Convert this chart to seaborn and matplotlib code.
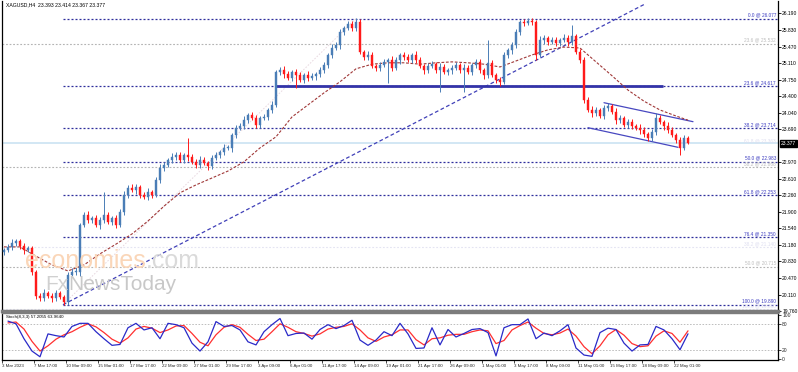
import matplotlib
matplotlib.use("Agg")
import matplotlib.pyplot as plt
import seaborn as sns
import pandas as pd

# ---------------- data ----------------
first_open = 21.02
closes = [
    21.07, 21.14, 21.22, 21.27, 21.16, 21.07, 21.12, 20.60, 20.08, 20.03,
    20.14, 20.08, 20.03, 20.14, 20.06, 19.95, 20.53, 20.60, 20.60, 21.61,
    21.83, 21.72, 21.76, 21.61, 21.72, 21.83, 21.68, 21.76, 21.61, 21.89,
    22.26, 22.41, 22.37, 22.43, 22.26, 22.22, 22.33, 22.26, 22.59, 22.85,
    22.91, 23.02, 23.08, 23.13, 23.02, 23.13, 23.08, 22.98, 22.91, 23.02,
    22.95, 22.89, 23.06, 23.13, 23.19, 23.28, 23.28, 23.56, 23.71, 23.75,
    23.88, 23.99, 23.93, 23.78, 23.93, 23.95, 24.10, 24.21, 24.92, 24.96,
    24.88, 24.79, 24.92, 24.86, 24.75, 24.86, 24.79, 24.83, 24.88, 24.96,
    25.07, 25.29, 25.44, 25.50, 25.79, 25.87, 25.96, 25.87, 26.00, 25.35,
    25.25, 25.29, 25.05, 25.01, 25.07, 25.14, 25.18, 25.01, 25.18, 25.29,
    25.25, 25.18, 25.29, 25.18, 25.05, 24.96, 25.05, 25.09, 24.96, 25.03,
    24.92, 24.96, 25.01, 25.07, 24.96, 25.01, 24.92, 25.07, 25.14, 24.96,
    24.86, 25.12, 24.86, 24.75, 24.71, 25.29, 25.40, 25.50, 25.79, 26.00,
    25.98, 26.03, 26.00, 25.29, 25.61, 25.66, 25.57, 25.61, 25.55, 25.61,
    25.66, 25.57, 25.70, 25.35, 25.18, 24.32, 24.10, 24.03, 24.10, 23.97,
    24.14, 24.19, 24.06, 23.88, 23.93, 23.78, 23.84, 23.75, 23.71, 23.67,
    23.58, 23.49, 23.62, 23.93, 23.84, 23.75, 23.67, 23.56, 23.45, 23.28,
    23.49, 23.377,
]
upper_wicks = [
    .05, .06, .08, .05, .04, .06, .05, .04, .05, .06,
    .08, .05, .06, .07, .05, .04, .06, .08, .10, .05,
    .06, .08, .05, .07, .06, .50, .06, .05, .08, .06,
    .08, .06, .10, .07, .05, .06, .08, .05, .06, .08,
    .06, .05, .08, .06, .07, .05, .36, .06, .05, .08,
    .06, .05, .07, .06, .05, .08, .06, .05, .07, .06,
    .08, .05, .06, .07, .05, .06, .05, .08, .05, .06,
    .08, .06, .05, .07, .06, .05, .08, .06, .05, .07,
    .06, .05, .08, .06, .07, .05, .06, .07, .08, .06,
    .05, .08, .06, .05, .07, .06, .05, .08, .06, .05,
    .07, .06, .05, .08, .06, .05, .07, .06, .05, .08,
    .06, .05, .07, .06, .05, .08, .06, .05, .07, .06,
    .05, .49, .06, .05, .07, .06, .05, .08, .06, .05,
    .06, .05, .06, .05, .08, .06, .05, .07, .06, .05,
    .08, .06, .24, .05, .07, .06, .05, .08, .06, .05,
    .07, .06, .05, .08, .06, .05, .07, .06, .05, .08,
    .06, .05, .07, .10, .06, .05, .08, .06, .05, .07,
    .06, .04,
]
lower_wicks = [
    .06, .05, .07, .05, .06, .08, .05, .06, .07, .05,
    .06, .05, .08, .06, .05, .06, .07, .05, .06, .08,
    .05, .07, .06, .05, .08, .06, .05, .07, .06, .05,
    .07, .06, .05, .08, .06, .05, .07, .06, .05, .06,
    .08, .05, .06, .07, .05, .06, .08, .05, .06, .07,
    .05, .08, .06, .05, .07, .06, .05, .08, .06, .05,
    .07, .06, .05, .08, .06, .05, .07, .06, .05, .06,
    .08, .05, .06, .28, .05, .07, .06, .05, .08, .06,
    .05, .07, .06, .05, .08, .06, .05, .07, .06, .05,
    .08, .06, .05, .07, .06, .05, .45, .06, .05, .08,
    .06, .05, .07, .06, .05, .08, .06, .05, .07, .47,
    .05, .06, .08, .05, .06, .47, .05, .07, .06, .05,
    .08, .06, .05, .07, .10, .05, .06, .08, .05, .06,
    .07, .05, .06, .10, .05, .08, .06, .05, .07, .06,
    .05, .08, .06, .05, .07, .06, .05, .08, .06, .05,
    .07, .06, .05, .08, .06, .05, .07, .06, .05, .08,
    .06, .05, .07, .06, .05, .08, .06, .05, .07, .15,
    .05, .01,
]
# moving average, sampled every 4th candle (+ last candle)
ma_values = [
    21.14, 21.14, 20.94, 20.75, 20.62, 20.75, 20.99, 21.20, 21.42, 21.70,
    22.02, 22.31, 22.48, 22.63, 22.78, 22.98, 23.28, 23.52, 23.95, 24.21,
    24.47, 24.71, 24.99, 25.09, 25.12, 25.12, 25.09, 25.12, 25.14, 25.12,
    25.09, 25.03, 25.16, 25.29, 25.40, 25.46, 25.44, 25.14, 24.84, 24.53,
    24.29, 24.10, 23.97, 23.88,
]
# stochastic (8,3,3), sampled every 2nd candle
stoch_k = [
    86, 80, 46, 18, 5, 57, 53, 50, 74, 81,
    81, 62, 46, 31, 33, 71, 81, 66, 71, 46,
    81, 78, 71, 36, 18, 39, 85, 74, 76, 66,
    39, 32, 62, 78, 92, 53, 58, 59, 45, 67,
    78, 69, 76, 88, 43, 31, 43, 62, 53, 81,
    57, 24, 25, 71, 32, 67, 50, 58, 67, 69,
    60, 7, 71, 78, 78, 91, 46, 59, 53, 64,
    78, 25, 9, 6, 60, 70, 67, 36, 18, 32,
    33, 74, 66, 46, 21, 57.2055,
]
stoch_d = [
    82, 84, 68, 40, 18, 30, 45, 55, 62, 72,
    80, 73, 60, 45, 36, 48, 68, 74, 70, 60,
    66, 75, 76, 58, 38, 30, 55, 72, 78, 72,
    56, 42, 45, 62, 80, 72, 62, 58, 52, 57,
    68, 72, 74, 80, 66, 48, 40, 50, 55, 66,
    66, 44, 32, 46, 48, 54, 56, 56, 62, 66,
    64, 35, 42, 66, 76, 84, 70, 58, 55, 59,
    68, 52, 28, 12, 30, 55, 67, 54, 35, 28,
    30, 52, 64, 58, 38, 63.964,
]
price_ticks = [26.190, 25.830, 25.470, 25.110, 24.750, 24.400, 24.040, 23.690,
               22.970, 22.610, 22.260, 21.900, 21.540, 21.180, 20.830, 20.470,
               20.110, 19.760]
date_labels = ["3 Mar 2023", "7 Mar 17:00", "10 Mar 09:00", "15 Mar 01:00",
               "17 Mar 17:00", "22 Mar 09:00", "27 Mar 01:00", "29 Mar 17:00",
               "3 Apr 09:00", "6 Apr 01:00", "11 Apr 17:00", "14 Apr 09:00",
               "19 Apr 01:00", "21 Apr 17:00", "26 Apr 09:00", "1 May 01:00",
               "3 May 17:00", "8 May 09:00", "11 May 01:00", "15 May 17:00",
               "18 May 09:00", "22 May 01:00"]
fib_main_levels = [26.077, 24.617, 23.714, 22.983, 22.253, 21.350, 19.890]
fib_main_labels = ["0.0 @ 26.077", "23.6 @ 24.617", "38.2 @ 23.714", "50.0 @ 22.983",
                   "61.8 @ 22.253", "76.4 @ 21.350", "100.0 @ 19.890"]
fib_grey_levels = [25.532, 22.868, 20.715]
fib_grey_labels = ["23.6 @ 25.532", "38.2 @ 22.868", "50.0 @ 20.715"]
fib_faint_levels = [23.363, 21.140, 19.800]
fib_faint_labels = ["61.8 @ 23.363", "38.2 @ 21.140", "100.0 @ 19.800"]
support_level = 24.617
last_price = 23.377
header = "XAGUSD,H4  23.393 23.414 23.367 23.377"
stoch_header = "Stoch(8,3,3) 57.2055 63.9640"

# ---------------- frame ----------------
n = len(closes)
opens = [first_open] + closes[:-1]
highs = [max(o, c) + w for o, c, w in zip(opens, closes, upper_wicks)]
lows = [min(o, c) - w for o, c, w in zip(opens, closes, lower_wicks)]
df = pd.DataFrame({"i": range(n), "open": opens, "close": closes,
                   "high": highs, "low": lows})
df["up"] = df["close"] >= df["open"]

ma_df = pd.DataFrame({"i": list(range(0, n, 4)) + [n - 1], "ma": ma_values})
st_df = pd.DataFrame({"i": list(range(1, n, 2)), "k": stoch_k, "d": stoch_d})

sns.set_style("white")
plt.rcParams["font.family"] = ["Liberation Sans", "DejaVu Sans"]

W, H = 798, 372
fig = plt.figure(figsize=(W / 100, H / 100), dpi=100)


def rect(l, t, r, b):
    return [l / W, 1 - b / H, (r - l) / W, (b - t) / H]


ax = fig.add_axes(rect(2, 1, 778, 311))
ax2 = fig.add_axes(rect(2, 313, 778, 360))

X0, X1 = -0.5, 193.5
ax.set_xlim(X0, X1)
ax.set_ylim(19.754, 26.456)

BLUE_UP = "#4a7db6"
RED_DN = "#ff1a1a"
FIBC = "#2e2e9c"
SMALL = 3.4

# watermark (behind everything)
fig.text(25 / W, 1 - 268 / H, "economies", fontsize=18, color="#fad6b8",
         family="Liberation Sans", zorder=0)
fig.text(146 / W, 1 - 268 / H, ".com", fontsize=18, color="#dadada",
         family="Liberation Sans", zorder=0)
fig.text(45 / W, 1 - 290 / H, "Fx", fontsize=15, color="#d0d0d0",
         family="Liberation Sans", zorder=0)
fig.text(68 / W, 1 - 290 / H, "NewsToday", fontsize=15, color="#c8c8c8",
         family="Liberation Sans", zorder=0)
ax.patch.set_alpha(0)

# horizontal level lines
dot = (0, (1.6, 1.6))
for lv in fib_grey_levels:
    ax.axhline(lv, color="#b4b4b4", lw=0.8, ls=dot, zorder=1)
for lv in fib_faint_levels[1:]:
    ax.axhline(lv, color="#e4e4f2", lw=0.8, ls=dot, zorder=1)
ax.axhline(last_price, color="#cfe5f3", lw=1.3, zorder=1)
for lv in fib_main_levels:
    ax.hlines(lv, 14.75, X1, color=FIBC, lw=0.9, ls=dot, zorder=2)

# labels of the fibonacci levels
lx = 193.0
for lv, t in zip(fib_main_levels, fib_main_labels):
    ax.text(lx, lv + 0.02, t, fontsize=SMALL, color="#3b3bc0", ha="right", va="bottom")
for lv, t in zip(fib_grey_levels, fib_grey_labels):
    ax.text(lx, lv + 0.02, t, fontsize=SMALL, color="#bdbdbd", ha="right", va="bottom")
for lv, t in zip(fib_faint_levels, fib_faint_labels):
    ax.text(lx, lv + 0.02, t, fontsize=SMALL, color="#dedef0", ha="right", va="bottom")

# fib diagonal and trend / channel lines
ax.plot([14.75, 88], [19.89, 26.077], color="#e8d8e0", lw=0.7, ls=dot, zorder=2)
ax.plot([14.75, 160], [19.89, 26.38], color="#4040b8", lw=0.9, ls=(0, (3, 2)), zorder=3)
ax.plot([150, 172.25], [24.257, 23.847], color="#4848c0", lw=0.9, zorder=3)
ax.plot([146, 168.5], [23.717, 23.293], color="#4848c0", lw=0.9, zorder=3)
ax.hlines(support_level, 68, 164.75, color="#3333a8", lw=2.0, zorder=3)

# moving average
sns.lineplot(data=ma_df, x="i", y="ma", ax=ax, color="#a03838", lw=0.8,
             zorder=4, legend=False)
ax.lines[-1].set_linestyle((0, (2.5, 1.5)))

# candles
for up, col in ((True, BLUE_UP), (False, RED_DN)):
    sub = df[df["up"] == up]
    ax.vlines(sub["i"], sub["low"], sub["high"], color=col, lw=0.7, zorder=5)
    body = (sub["close"] - sub["open"]).abs().clip(lower=0.012)
    ax.bar(sub["i"], body, bottom=sub[["open", "close"]].min(axis=1), width=0.55,
           color=col, edgecolor=col, linewidth=0.3, zorder=6)

# axes styling main
ax.set_xlabel("")
ax.set_ylabel("")
ax.set_xticks([])
ax.yaxis.tick_right()
ax.set_yticks(price_ticks)
ax.set_yticklabels([f"{v:.3f}" for v in price_ticks])
ax.tick_params(axis="y", right=True, left=False, length=2, width=0.6, pad=1.0,
               labelsize=3.6, colors="black")
for s in ("left", "right"):
    ax.spines[s].set_color("black")
    ax.spines[s].set_linewidth(0.9)
ax.spines["top"].set_visible(False)
ax.spines["bottom"].set_color("#7c7c7c")
ax.spines["bottom"].set_linewidth(2.5)

ax.text(0.5, 26.43, header, fontsize=3.7, color="black", ha="left", va="top")
ax.text(X1 + 0.7, last_price, f"{last_price:.3f}", fontsize=3.6, color="white",
        ha="left", va="center", clip_on=False,
        bbox=dict(boxstyle="square,pad=0.2", fc="black", ec="black"))

# ---------------- stochastic panel ----------------
ax2.set_xlim(X0, X1)
ax2.set_ylim(-2.3, 104.5)
ax2.axhline(80, color="#bdbdbd", lw=0.7, ls=dot)
ax2.axhline(20, color="#bdbdbd", lw=0.7, ls=dot)
sns.lineplot(data=st_df, x="i", y="d", ax=ax2, color="#ff3030", lw=0.9, legend=False)
sns.lineplot(data=st_df, x="i", y="k", ax=ax2, color="#2a2ac8", lw=0.9, legend=False)
ax2.set_xlabel("")
ax2.set_ylabel("")
ax2.yaxis.tick_right()
ax2.set_yticks([0, 20, 80, 100])
ax2.set_yticklabels(["0", "20", "80", "100"])
ax2.tick_params(axis="y", right=True, left=False, length=2, width=0.6, pad=1.0,
                labelsize=3.6)
tick_pos = [-0.5 + 8 * j for j in range(len(date_labels))]
ax2.set_xticks(tick_pos)
ax2.set_xticklabels(date_labels, ha="left")
ax2.tick_params(axis="x", bottom=True, length=2, width=0.6, pad=1.2, labelsize=3.2)
for s in ("left", "right", "bottom"):
    ax2.spines[s].set_color("black")
    ax2.spines[s].set_linewidth(0.9)
ax2.spines["top"].set_color("#7c7c7c")
ax2.spines["top"].set_linewidth(1.0)
ax2.text(0.5, 101, stoch_header, fontsize=3.2, color="black", ha="left", va="top")

fig.savefig("out.png", dpi=100)
